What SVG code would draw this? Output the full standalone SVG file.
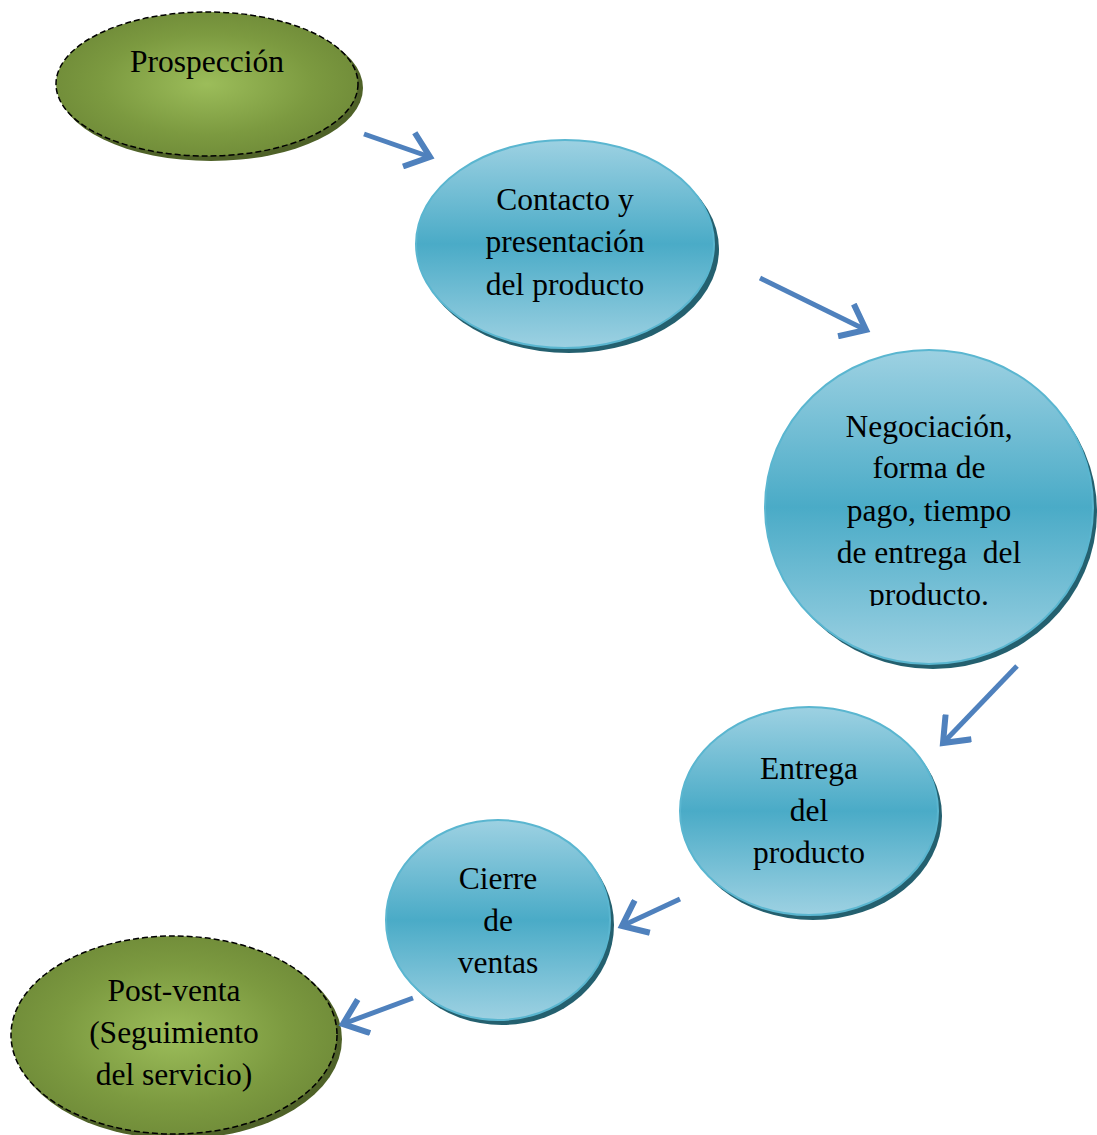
<svg xmlns="http://www.w3.org/2000/svg" width="1097" height="1135" viewBox="0 0 1097 1135">
<defs>
<linearGradient id="blueG" x1="0" y1="0" x2="0" y2="1">
<stop offset="0" stop-color="#9dd1e2"/>
<stop offset="0.5" stop-color="#4aabc7"/>
<stop offset="1" stop-color="#9dd1e2"/>
</linearGradient>
<radialGradient id="greenG" cx="0.5" cy="0.5" r="0.5">
<stop offset="0" stop-color="#9cbd5a"/>
<stop offset="0.7" stop-color="#7c9a40"/>
<stop offset="1" stop-color="#728e3a"/>
</radialGradient>
<marker id="chev" markerWidth="8" markerHeight="8" refX="5" refY="4" orient="auto" markerUnits="strokeWidth">
<path d="M1,0.8 L5,4 L1,7.2" fill="none" stroke="#4f81bd" stroke-width="1.2" stroke-linecap="square"/>
</marker>
<clipPath id="negClip"><rect x="760" y="340" width="340" height="266"/></clipPath>
</defs>
<style>
.t{font-family:"Liberation Serif","Times New Roman",serif;font-size:31.5px;fill:#000;text-anchor:middle}
.blue{fill:url(#blueG);stroke:#5ab6d0;stroke-width:2}
.bsh{fill:#24606f}
.green{fill:url(#greenG);stroke:#000;stroke-width:1.5;stroke-dasharray:6 3}
.gsh{fill:#4f6228}
.arr{fill:none;stroke:#4f81bd;stroke-width:5;marker-end:url(#chev)}
</style>

<g id="prospeccion">
<ellipse class="gsh" cx="211" cy="88" rx="152" ry="73"/>
<ellipse class="green" cx="207" cy="84" rx="151" ry="72"/>
<text class="t" x="207" y="72">Prospección</text>
</g>

<g id="contacto">
<ellipse class="bsh" cx="569" cy="249" rx="150" ry="104"/>
<ellipse class="blue" cx="565" cy="244" rx="149" ry="104"/>
<text class="t" x="565" y="210">Contacto y</text>
<text class="t" x="565" y="252">presentación</text>
<text class="t" x="565" y="295">del producto</text>
</g>

<g id="negociacion">
<ellipse class="bsh" cx="933" cy="512" rx="164" ry="157"/>
<ellipse class="blue" cx="929" cy="507" rx="164" ry="157"/>
<g clip-path="url(#negClip)">
<text class="t" x="929" y="437">Negociación,</text>
<text class="t" x="929" y="478">forma de</text>
<text class="t" x="929" y="521">pago, tiempo</text>
<text class="t" x="929" y="563" xml:space="preserve">de entrega  del</text>
<text class="t" x="929" y="605">producto.</text>
</g>
</g>

<g id="entrega">
<ellipse class="bsh" cx="813" cy="816" rx="129" ry="104"/>
<ellipse class="blue" cx="809" cy="811" rx="129" ry="104"/>
<text class="t" x="809" y="779">Entrega</text>
<text class="t" x="809" y="821">del</text>
<text class="t" x="809" y="863">producto</text>
</g>

<g id="cierre">
<ellipse class="bsh" cx="502" cy="925" rx="112" ry="100"/>
<ellipse class="blue" cx="498" cy="920" rx="112" ry="100"/>
<text class="t" x="498" y="889">Cierre</text>
<text class="t" x="498" y="931">de</text>
<text class="t" x="498" y="973">ventas</text>
</g>

<g id="postventa">
<ellipse class="gsh" cx="178" cy="1039" rx="164" ry="100"/>
<ellipse class="green" cx="174" cy="1035" rx="163" ry="99"/>
<text class="t" x="174" y="1001">Post-venta</text>
<text class="t" x="174" y="1043">(Seguimiento</text>
<text class="t" x="174" y="1085">del servicio)</text>
</g>

<g id="connectors">
<path class="arr" d="M364,134 L430,157"/>
<path class="arr" d="M760,278 L866,330"/>
<path class="arr" d="M1017,666 L943,743"/>
<path class="arr" d="M680,899 L622,926"/>
<path class="arr" d="M413,998 L343,1024"/>
</g>
</svg>
